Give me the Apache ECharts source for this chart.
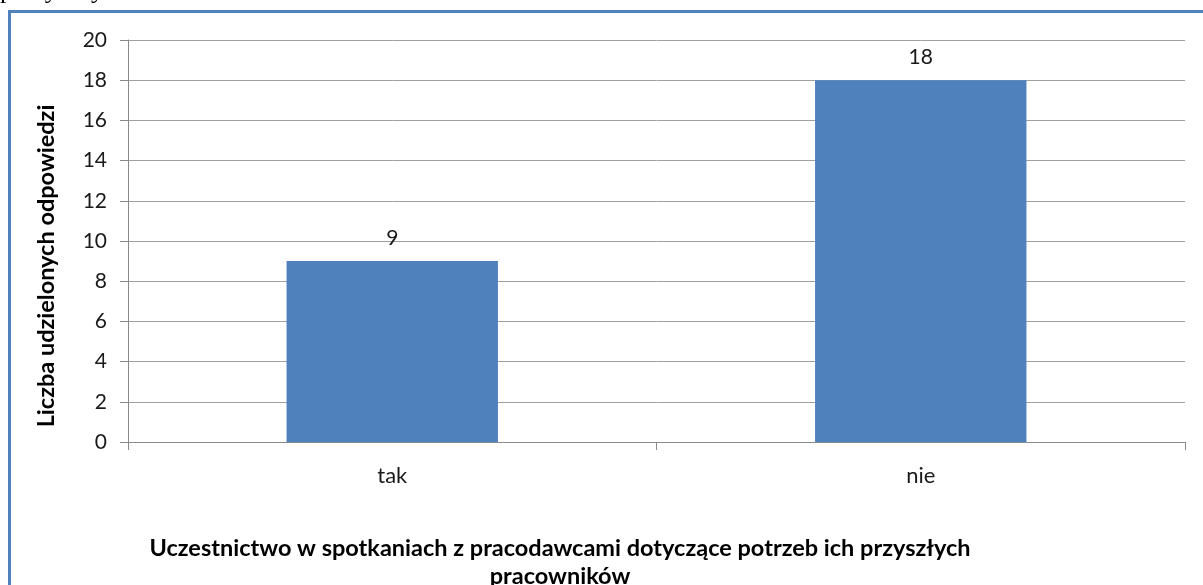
<!DOCTYPE html>
<html><head><meta charset="utf-8">
<script src="https://cdn.jsdelivr.net/npm/echarts@6/dist/echarts.min.js"></script>
<style>html,body{margin:0;padding:0;background:#fff}#c{width:1203px;height:585px}</style>
</head><body><div id="c"></div>
<script>
const categories = ['tak', 'nie'];
const values = [9, 18];
const yTitle = 'Liczba udzielonych odpowiedzi';
const xTitle = 'Uczestnictwo w spotkaniach z pracodawcami dotyczące potrzeb ich przyszłych\npracowników';

const chart = echarts.init(document.getElementById('c'), null, {renderer: 'canvas'});
const font = 'Lato, "Open Sans", sans-serif';
chart.setOption({
  animation: false,
  backgroundColor: '#fff',
  grid: {left: 128, right: 18, top: 40, bottom: 143},
  xAxis: {
    type: 'category', data: categories,
    axisLine: {lineStyle: {color: '#898989', width: 1}},
    axisTick: {show: true, length: 8, lineStyle: {color: '#898989'}},
    axisLabel: {color: '#1a1a1a', fontSize: 22, fontFamily: font, margin: 23}
  },
  yAxis: {
    type: 'value', min: 0, max: 20, interval: 2,
    axisLine: {show: true, lineStyle: {color: '#898989'}},
    axisTick: {show: true, length: 8, lineStyle: {color: '#898989'}},
    axisLabel: {color: '#1a1a1a', fontSize: 21, fontFamily: font, margin: 21},
    splitLine: {lineStyle: {color: '#a0a0a0'}}
  },
  series: [{
    type: 'bar', data: values, barWidth: '40%',
    itemStyle: {color: '#4f81bd'},
    label: {show: true, position: 'top', distance: 12, color: '#1a1a1a', fontSize: 21, fontFamily: font}
  }],
  graphic: [
    {type: 'rect', shape: {x: 9.5, y: 11.5, width: 1400, height: 800},
     style: {fill: null, stroke: '#4f81bd', lineWidth: 3}, z: 100},
    {type: 'text', x: 46, y: 266, rotation: Math.PI / 2,
     style: {text: yTitle, fontSize: 23.5, fontWeight: 'bold', fontFamily: font, fill: '#000',
             textAlign: 'center', textVerticalAlign: 'middle'}},
    {type: 'text', x: 560, y: 534,
     style: {text: xTitle, fontSize: 23.5, fontWeight: 'bold', fontFamily: font, fill: '#000',
             textAlign: 'center', lineHeight: 28}},
    {type: 'text', x: 0, y: -22,
     style: {text: 'pracy i by', fontSize: 26, fontFamily: '"Liberation Serif", serif', fill: '#000'}}
  ]
});
</script></body></html>
